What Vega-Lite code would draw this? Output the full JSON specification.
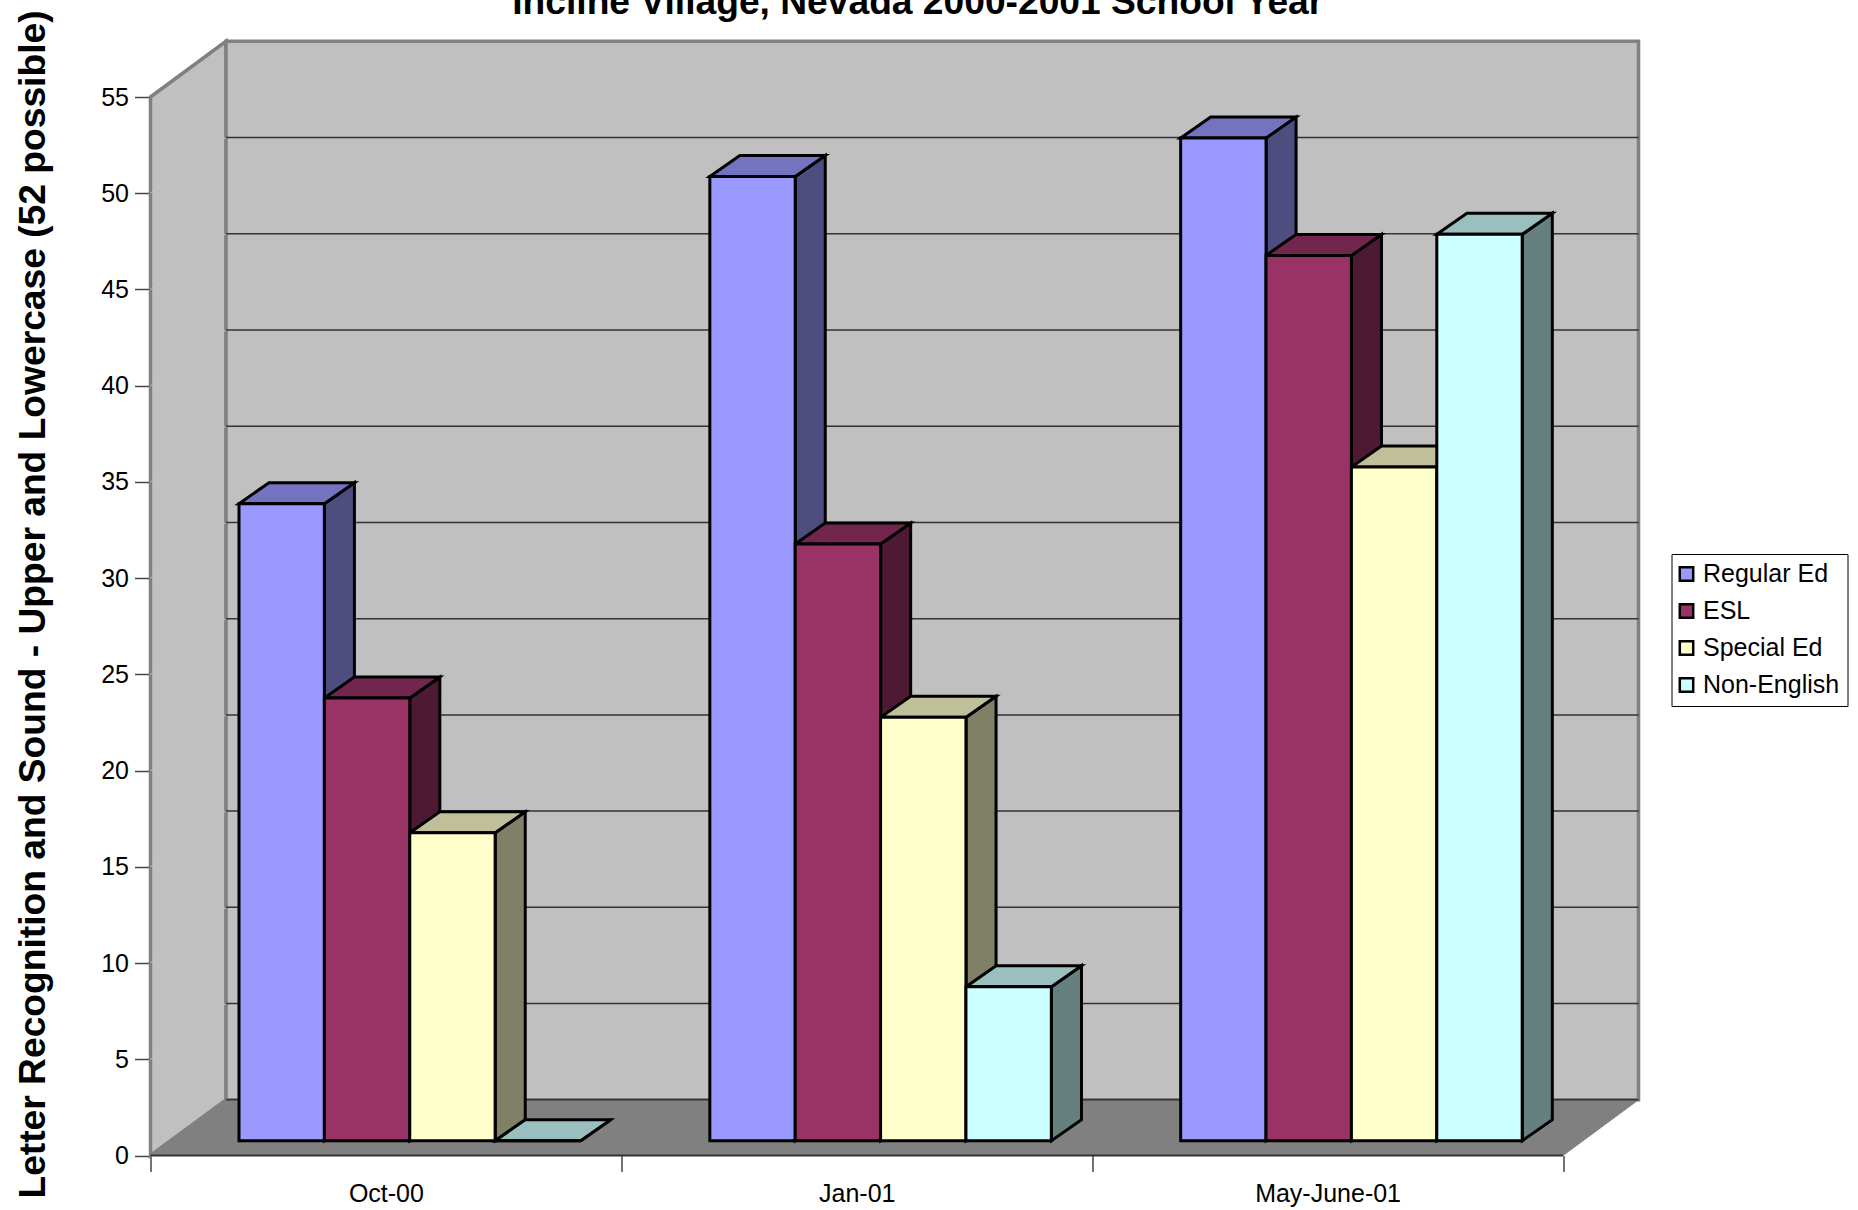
{
"$schema":"https://vega.github.io/schema/vega-lite/v6.json",
"width":1412.5,"height":1058.5,
"autosize":{"type":"none"},
"padding":{"left":150.5,"top":97,"right":295,"bottom":54.5},
"background":"white",
"config":{"view":{"stroke":null},"font":"Liberation Sans"},
"title":{"text":"Incline Village, Nevada 2000-2001 School Year","font":"Liberation Sans","fontSize":37.2,"fontWeight":"bold","color":"black","anchor":"middle","dx":61,"offset":-41,"baseline":"alphabetic"},
"datasets":{
"scores":[
{"month":"Oct-00","series":"Regular Ed","value":33.1},
{"month":"Oct-00","series":"ESL","value":23},
{"month":"Oct-00","series":"Special Ed","value":16},
{"month":"Oct-00","series":"Non-English","value":0},
{"month":"Jan-01","series":"Regular Ed","value":50.1},
{"month":"Jan-01","series":"ESL","value":31},
{"month":"Jan-01","series":"Special Ed","value":22},
{"month":"Jan-01","series":"Non-English","value":8},
{"month":"May-June-01","series":"Regular Ed","value":52.1},
{"month":"May-June-01","series":"ESL","value":46},
{"month":"May-June-01","series":"Special Ed","value":35},
{"month":"May-June-01","series":"Non-English","value":47.1}
],
"frame":[
{"face":"left","corner":0,"x":0,"y":0},
{"face":"left","corner":1,"x":0.1604,"y":2.894},
{"face":"left","corner":2,"x":0.1604,"y":57.894},
{"face":"left","corner":3,"x":0,"y":55},
{"face":"back","corner":0,"x":0.1604,"y":2.894},
{"face":"back","corner":1,"x":0.1604,"y":57.894},
{"face":"back","corner":2,"x":3.1604,"y":57.894},
{"face":"back","corner":3,"x":3.1604,"y":2.894}
],
"floor":[
{"corner":0,"x":0,"y":0},
{"corner":1,"x":0.1604,"y":2.894},
{"corner":2,"x":3.1604,"y":2.894},
{"corner":3,"x":3,"y":0}
],
"ticks":[{"v":0},{"v":5},{"v":10},{"v":15},{"v":20},{"v":25},{"v":30},{"v":35},{"v":40},{"v":45},{"v":50}]
},
"layer":[
{"data":{"name":"frame"},
 "mark":{"type":"line","interpolate":"linear-closed","fill":"#c0c0c0","stroke":"#808080","strokeWidth":3.5},
 "encoding":{
  "x":{"field":"x","type":"quantitative","scale":{"domain":[0,3],"nice":false,"zero":false},"axis":null},
  "y":{"field":"y","type":"quantitative","scale":{"domain":[0,55],"nice":false},
   "axis":{"values":[0,5,10,15,20,25,30,35,40,45,50,55],"grid":false,"domain":false,"tickColor":"#444444","tickSize":16,"tickWidth":1.5,"labelFontSize":25,"labelFont":"Liberation Sans","labelColor":"black","labelPadding":6,
    "title":"Letter Recognition and Sound - Upper and Lowercase (52 possible)","titleFont":"Liberation Sans","titleFontSize":37.2,"titleFontWeight":"bold","titleColor":"black","titleX":-117.5,"titleY":507,"titleAngle":-90,"titleAlign":"center","titleBaseline":"middle"}},
  "detail":{"field":"face"},
  "order":{"field":"corner"}
 }},
{"data":{"name":"floor"},
 "mark":{"type":"line","interpolate":"linear-closed","fill":"#808080","stroke":"#808080","strokeWidth":1},
 "encoding":{
  "x":{"field":"x","type":"quantitative","scale":{"domain":[0,3],"nice":false,"zero":false},"axis":null},
  "y":{"field":"y","type":"quantitative","axis":null},
  "order":{"field":"corner"}
 }},
{"data":{"name":"ticks"},
 "transform":[{"filter":"datum.v>0"},{"calculate":"datum.v+2.894","as":"back"}],
 "mark":{"type":"rule","stroke":"#c6c6c6","strokeWidth":1},
 "encoding":{
  "x":{"datum":0,"type":"quantitative","scale":{"domain":[0,3],"nice":false,"zero":false},"axis":null},
  "x2":{"datum":0.1604},
  "y":{"field":"v","type":"quantitative","axis":null},
  "y2":{"field":"back"}
 }},
{"data":{"name":"ticks"},
 "transform":[{"calculate":"datum.v+2.894","as":"back"}],
 "mark":{"type":"rule","stroke":"#333333","strokeWidth":1.5},
 "encoding":{
  "x":{"datum":0.1604,"type":"quantitative","scale":{"domain":[0,3],"nice":false,"zero":false},"axis":null},
  "x2":{"datum":3.1604},
  "y":{"field":"back","type":"quantitative","axis":null}
 }},
{"data":{"name":"ticks"},
 "transform":[{"filter":"datum.v==0"}],
 "mark":{"type":"rule","stroke":"#333333","strokeWidth":2},
 "encoding":{
  "x":{"datum":0,"type":"quantitative","scale":{"domain":[0,3],"nice":false,"zero":false},"axis":null},
  "x2":{"datum":3},
  "y":{"field":"v","type":"quantitative","axis":null}
 }},
{"data":{"name":"scores"},
 "transform":[
  {"calculate":"indexof(['Oct-00','Jan-01','May-June-01'],datum.month)+0.188+indexof(['Regular Ed','ESL','Special Ed','Non-English'],datum.series)*0.1814+0.1814","as":"xr"},
  {"calculate":"datum.value+0.769","as":"top"},
  {"calculate":"[0,1,2,3]","as":"corner"},
  {"flatten":["corner"]},
  {"calculate":"datum.corner<2?datum.xr+datum.corner*0.0637:datum.xr+(3-datum.corner)*0.0637","as":"px"},
  {"calculate":"datum.corner==0?datum.top:datum.corner==1?datum.top+1.091:datum.corner==2?1.86:0.769","as":"py"}
 ],
 "mark":{"type":"line","interpolate":"linear-closed","stroke":"black","strokeWidth":3,"strokeJoin":"miter"},
 "encoding":{
  "x":{"field":"px","type":"quantitative","scale":{"domain":[0,3],"nice":false,"zero":false},"axis":null},
  "y":{"field":"py","type":"quantitative","axis":null},
  "fill":{"field":"series","type":"nominal","scale":{"domain":["Regular Ed","ESL","Special Ed","Non-English"],"range":["#4d4d80","#4d1933","#808066","#668080"]},"legend":null},
  "detail":{"field":"month"},
  "order":{"field":"corner"}
 }},
{"data":{"name":"scores"},
 "transform":[
  {"calculate":"indexof(['Oct-00','Jan-01','May-June-01'],datum.month)+0.188+indexof(['Regular Ed','ESL','Special Ed','Non-English'],datum.series)*0.1814","as":"xl"},
  {"calculate":"datum.value+0.769","as":"top"},
  {"calculate":"[0,1,2,3]","as":"corner"},
  {"flatten":["corner"]},
  {"calculate":"datum.corner==0?datum.xl:datum.corner==1?datum.xl+0.0637:datum.corner==2?datum.xl+0.1814+0.0637:datum.xl+0.1814","as":"px"},
  {"calculate":"datum.corner==0||datum.corner==3?datum.top:datum.top+1.091","as":"py"}
 ],
 "mark":{"type":"line","interpolate":"linear-closed","stroke":"black","strokeWidth":3,"strokeJoin":"miter"},
 "encoding":{
  "x":{"field":"px","type":"quantitative","scale":{"domain":[0,3],"nice":false,"zero":false},"axis":null},
  "y":{"field":"py","type":"quantitative","axis":null},
  "fill":{"field":"series","type":"nominal","scale":{"domain":["Regular Ed","ESL","Special Ed","Non-English"],"range":["#7373bf","#73264d","#bfbf99","#99bfbf"]},"legend":null},
  "detail":{"field":"month"},
  "order":{"field":"corner"}
 }},
{"data":{"name":"scores"},
 "mark":{"type":"bar","stroke":"black","strokeWidth":3,"yOffset":-14.8,"y2Offset":-14.8},
 "encoding":{
  "x":{"field":"month","type":"nominal","sort":["Oct-00","Jan-01","May-June-01"],"scale":{"paddingInner":0,"paddingOuter":0},
   "axis":{"title":null,"domain":false,"labelAngle":0,"tickBand":"extent","tickColor":"#444444","tickSize":16,"tickWidth":1.5,"labelFontSize":25,"labelFont":"Liberation Sans","labelColor":"black","labelPadding":10}},
  "xOffset":{"field":"series","type":"nominal","sort":["Regular Ed","ESL","Special Ed","Non-English"],"scale":{"domain":["Regular Ed","ESL","Special Ed","Non-English"],"range":[88.5,430],"paddingInner":0,"paddingOuter":0}},
  "y":{"field":"value","type":"quantitative","axis":null},
  "color":{"field":"series","type":"nominal","scale":{"domain":["Regular Ed","ESL","Special Ed","Non-English"],"range":["#9999ff","#993366","#ffffcc","#ccffff"]},
   "legend":{"title":null,"orient":"none","legendX":1521,"legendY":457,"fillColor":"white","strokeColor":"black","padding":7.5,"rowPadding":11,"symbolType":"square","symbolSize":180,"symbolOffset":-5,"symbolStrokeColor":"black","symbolStrokeWidth":2.5,"labelFont":"Liberation Sans","labelFontSize":25,"labelColor":"black","labelOffset":4}}
 }}
],
"resolve":{"scale":{"x":"independent","fill":"independent","color":"independent"},"axis":{"x":"independent","y":"independent"}}
}
